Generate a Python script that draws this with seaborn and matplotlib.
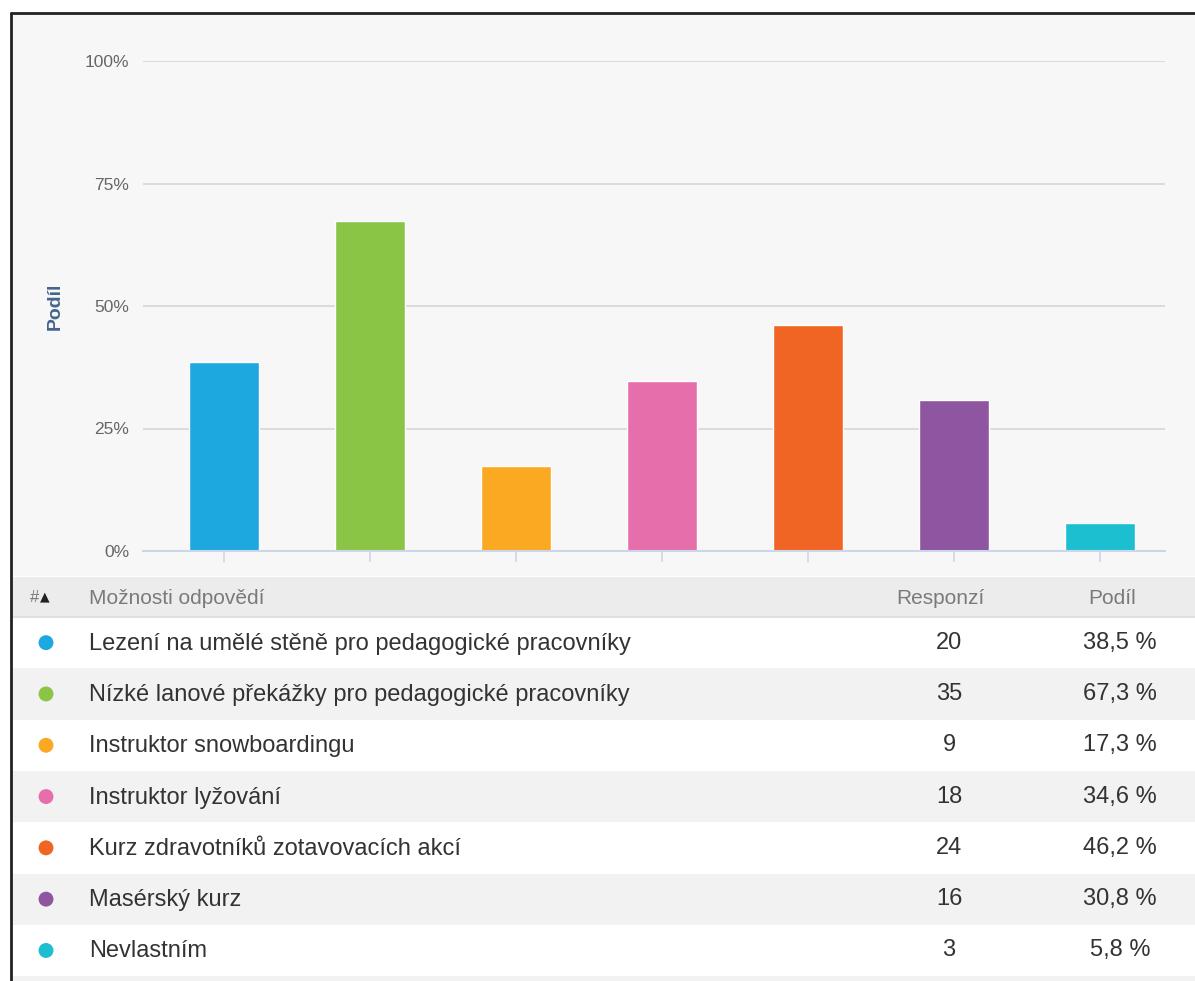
import matplotlib
matplotlib.use("Agg")
import matplotlib.pyplot as plt
import seaborn as sns
import pandas as pd
from matplotlib.patches import Rectangle

# ==============================
# DATA
# ==============================

options = [
    "Lezení na umělé stěně pro pedagogické pracovníky",
    "Nízké lanové překážky pro pedagogické pracovníky",
    "Instruktor snowboardingu",
    "Instruktor lyžování",
    "Kurz zdravotníků zotavovacích akcí",
    "Masérský kurz",
    "Nevlastním",
]
responses = [20, 35, 9, 18, 24, 16, 3]
shares = [38.5, 67.3, 17.3, 34.6, 46.2, 30.8, 5.8]
colors = ["#1ea8e0", "#8bc546", "#fba823", "#e66fab", "#f06424", "#8e55a0", "#1bbfcf"]
y_ticks = [0, 25, 50, 75, 100]
y_tick_labels = ["0%", "25%", "50%", "75%", "100%"]

df = pd.DataFrame({"option": options, "share": shares, "count": responses})

# ==============================
# FIGURE
# ==============================

sns.set_style("white")
plt.rcParams["font.family"] = ["Liberation Sans", "DejaVu Sans"]

W, H = 1195, 981
fig = plt.figure(figsize=(W / 100, H / 100), dpi=100)
fig.patch.set_facecolor("white")

# background / table axes in pixel coordinates
bg = fig.add_axes([0, 0, 1, 1])
bg.set_xlim(0, W)
bg.set_ylim(H, 0)
bg.axis("off")

bg.add_patch(Rectangle((11, 14), W - 11, 562, color="#f7f7f7", lw=0))
bg.add_patch(Rectangle((11, 577), W - 11, 40, color="#ececec", lw=0))
bg.plot([11, W], [617, 617], color="#dcdcdc", lw=1.2)

row_h = 51.3
row0 = 617
for i in range(len(options) + 1):
    face = "white" if i % 2 == 0 else "#f2f2f2"
    bg.add_patch(Rectangle((11, row0 + i * row_h), W - 11, row_h, color=face, lw=0))

# outer frame
bg.plot([11, 11], [13, H], color="#222222", lw=2)
bg.plot([11, W], [13, 13], color="#222222", lw=2)

# header
bg.text(30, 598, "#", fontsize=12, color="#777777", va="center", ha="left")
bg.text(40, 597, "▲", fontsize=9, color="#222222", va="center", ha="left", family="DejaVu Sans")
bg.text(89, 598, "Možnosti odpovědí", fontsize=15, color="#7a7a7a", va="center", ha="left")
bg.text(940, 598, "Responzí", fontsize=15, color="#7a7a7a", va="center", ha="center")
bg.text(1112, 598, "Podíl", fontsize=15, color="#7a7a7a", va="center", ha="center")

centers = [row0 + row_h * (i + 0.5) for i in range(len(options))]
bg.scatter([46] * len(options), centers, s=115, c=colors, lw=0, zorder=3)
for yc, opt, cnt, sh in zip(centers, df["option"], df["count"], df["share"]):
    bg.text(89, yc + 1, opt, fontsize=17, color="#333333", va="center", ha="left")
    bg.text(949, yc, str(cnt), fontsize=17, color="#333333", va="center", ha="center")
    bg.text(1120, yc, f"{sh:.1f}".replace(".", ",") + " %", fontsize=17,
            color="#333333", va="center", ha="center")

# ==============================
# BAR CHART
# ==============================

x0, x1 = 143, 1165
y_top, y_bot = 61, 551
ax = fig.add_axes([x0 / W, 1 - y_bot / H, (x1 - x0) / W, (y_bot - y_top) / H])
ax.set_facecolor("none")

sns.barplot(data=df, x="option", y="share", hue="option", palette=colors,
            width=0.48, legend=False, ax=ax, saturation=1)

ax.set_xlim(-0.555, 6.445)
ax.set_ylim(0, 100)
ax.set_yticks(y_ticks)
ax.set_yticklabels(y_tick_labels, fontsize=12.5, color="#666666")
ax.yaxis.grid(True, color="#d6d6d6", lw=1.2)
ax.set_axisbelow(True)
ax.tick_params(axis="y", length=0, pad=10)
ax.tick_params(axis="x", bottom=True, length=8, width=1.2, color="#ccd6eb",
               labelbottom=False)
ax.set_xlabel("")
ax.set_ylabel("Podíl", fontsize=14, fontweight="bold", color="#44648c")
ax.yaxis.set_label_coords(-0.078, 0.5)

for side in ["top", "right", "left"]:
    ax.spines[side].set_visible(False)
ax.spines["bottom"].set_color("#ccd6eb")
ax.spines["bottom"].set_linewidth(1.5)

fig.savefig("out.png", dpi=100)
plt.close(fig)
